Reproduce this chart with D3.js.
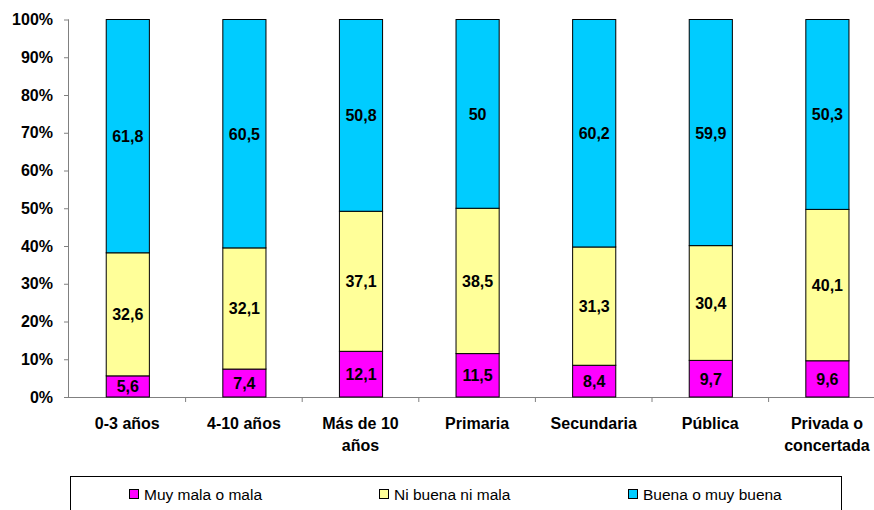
<!DOCTYPE html>
<html><head><meta charset="utf-8">
<script src="https://cdn.jsdelivr.net/npm/d3@7"></script>
<style>body{margin:0;background:#fff}svg{display:block;font-family:Arial,"Liberation Sans",sans-serif}</style>
</head><body><svg id="c" width="874" height="510"></svg>
<script>
const categories = [["0-3 años"],["4-10 años"],["Más de 10","años"],["Primaria"],["Secundaria"],["Pública"],["Privada o","concertada"]];
const seriesNames = ["Muy mala o mala","Ni buena ni mala","Buena o muy buena"];
const muyMala = [5.6,7.4,12.1,11.5,8.4,9.7,9.6];
const niBuena = [32.6,32.1,37.1,38.5,31.3,30.4,40.1];
const buena = [61.8,60.5,50.8,50,60.2,59.9,50.3];
const yTicks = [0,10,20,30,40,50,60,70,80,90,100];
const colors = ["#FF00FF","#FFFF99","#00CCFF"];

const svg = d3.select("#c");
const pL = 69, pR = 885.2, pT = 19.5, pB = 397;
const keys = categories.map(c=>c.join(" "));
const x = d3.scaleBand().domain(keys).range([pL,pR]).paddingInner(0.63).paddingOuter(0.315);
const y = d3.scaleLinear().domain([0,100]).range([pB,pT]);

const rows = keys.map((k,i)=>{const t=muyMala[i]+niBuena[i]+buena[i];return {k, a:muyMala[i]*100/t, b:niBuena[i]*100/t, c:buena[i]*100/t, raw:[muyMala[i],niBuena[i],buena[i]]};});
const stack = d3.stack().keys(["a","b","c"])(rows);

// axes
const yAxis = svg.append("g").attr("transform",`translate(${pL},0)`)
  .call(d3.axisLeft(y).tickValues(yTicks).tickFormat(d=>d+"%").tickSize(5).tickPadding(11));
yAxis.select(".domain").attr("stroke","#808080").attr("d",`M-0.5,${pT}V${pB}`);
yAxis.selectAll(".tick line").attr("stroke","#808080");
yAxis.selectAll("text").attr("font-size",16).attr("font-weight","bold").attr("fill","#000");

const xAxis = svg.append("g").attr("transform",`translate(0,${pB})`)
  .call(d3.axisBottom(x).tickSize(0).tickFormat(""));
xAxis.select(".domain").attr("stroke","#808080").attr("d",`M${pL},0.5H${pR}`);
xAxis.selectAll(".tick").remove();
const step = x.step();
xAxis.selectAll("line.sep").data(d3.range(1,keys.length)).enter().append("line")
  .attr("x1",i=>pL+i*step).attr("x2",i=>pL+i*step).attr("y1",0).attr("y2",5).attr("stroke","#808080");

// bars
stack.forEach((s,si)=>{
  const g = svg.append("g");
  g.selectAll("rect").data(s).enter().append("rect")
    .attr("x",d=>x(d.data.k)+0.5).attr("width",x.bandwidth())
    .attr("y",d=>y(d[1])).attr("height",d=>y(d[0])-y(d[1]))
    .attr("fill",colors[si]).attr("stroke","#000").attr("stroke-width",1);
  g.selectAll("text").data(s).enter().append("text")
    .attr("x",d=>x(d.data.k)+x.bandwidth()/2+0.5).attr("y",d=>(y(d[0])+y(d[1]))/2+6)
    .attr("text-anchor","middle").attr("font-size",16).attr("font-weight","bold")
    .text(d=>String(d.data.raw[si]).replace(".",","));
});

// category labels
categories.forEach((c,i)=>{
  const t = svg.append("text").attr("text-anchor","middle").attr("font-size",16).attr("font-weight","bold")
    .attr("x",x(keys[i])+x.bandwidth()/2);
  c.forEach((line,j)=>t.append("tspan").attr("x",x(keys[i])+x.bandwidth()/2).attr("y",429+j*22).text(line));
});

// legend
svg.append("rect").attr("x",70.5).attr("y",476.5).attr("width",771).attr("height",40).attr("fill","#fff").attr("stroke","#000");
const legX = [129,379,628];
seriesNames.forEach((n,i)=>{
  svg.append("rect").attr("x",legX[i]+0.5).attr("y",489.5).attr("width",9).attr("height",9).attr("fill",colors[i]).attr("stroke","#000");
  svg.append("text").attr("x",legX[i]+15).attr("y",500).attr("font-size",15.5).text(n);
});
</script></body></html>
